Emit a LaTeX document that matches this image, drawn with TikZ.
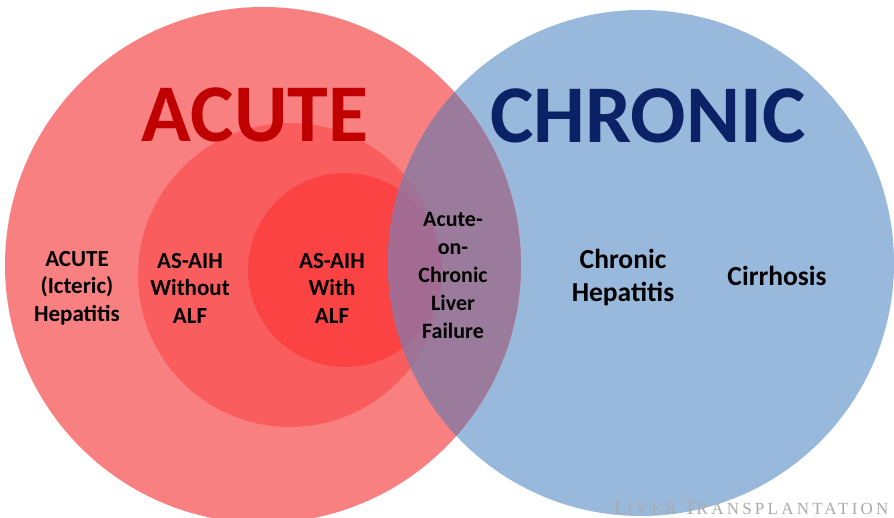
\documentclass[tikz,border=0pt]{standalone}
\usepackage{fontspec}
\setmainfont{Carlito}
\newfontfamily\wmfont[LetterSpace=19]{Liberation Serif}
\usetikzlibrary{positioning}
\definecolor{acout}{HTML}{F98080}
\definecolor{acmid}{HTML}{F95D5E}
\definecolor{acin}{HTML}{FB4343}
\definecolor{chblue}{HTML}{98B9DB}
\definecolor{ovout}{HTML}{9B7B9C}
\definecolor{ovmid}{HTML}{A07296}
\definecolor{ovin}{HTML}{A36B92}
\definecolor{acdark}{HTML}{C00000}
\definecolor{chnavy}{HTML}{0B2266}
\definecolor{wmgrey}{HTML}{ABABAB}

\begin{document}
\begin{tikzpicture}[x=1pt, y=-1pt,
          title/.style={font=\bfseries\fontsize{82}{82}\selectfont},
          lbl/.style={font=\bfseries\fontsize{23}{27.5}\selectfont, align=center, text=black},
          biglbl/.style={lbl, font=\bfseries\fontsize{27.5}{33}\selectfont}]
        \useasboundingbox (0,0) rectangle (894,518);
        \fill[white] (0,0) rectangle (894,518);
        % circles
        \fill[chblue] (641,263) circle (253);
        \fill[acout] (263,265) circle (258);
        \fill[acmid] (290,275) circle (152);
        \fill[acin] (345,270) circle (97);
        \begin{scope}
          \clip (641,263) circle (253);
          \fill[ovout] (263,265) circle (258);
          \fill[ovmid] (290,275) circle (152);
          \fill[ovin] (345,270) circle (97);
        \end{scope}
        % labels
        \node[title, text=acdark] (acute) at (255,115) {ACUTE};
        \node[title, text=chnavy] (chronic) at (648,116) {CHRONIC};
        \node[lbl] (icteric) at (77,288) {ACUTE\\(Icteric)\\Hepatitis};
        \node[lbl] (noalf) at (190,288) {AS-AIH\\Without\\ALF};
        \node[lbl] (alf) at (332,288) {AS-AIH\\With\\ALF};
        \node[lbl, font=\bfseries\fontsize{22}{28}\selectfont] (aclf) at (453,275) {Acute-\\on-\\Chronic\\Liver\\Failure};
        \node[biglbl] (chhep) at (623,278) {Chronic\\Hepatitis};
        \node[biglbl] (cirr) at (777,276) {Cirrhosis};
        \node[anchor=base west, inner sep=0pt, text=wmgrey] (wm) at (614,514)
          {\wmfont\fontsize{21}{21}\selectfont L\fontsize{17}{17}\selectfont IVER
           \fontsize{21}{21}\selectfont T\fontsize{17}{17}\selectfont RANSPLANTATION};
      \end{tikzpicture}
\end{document}
